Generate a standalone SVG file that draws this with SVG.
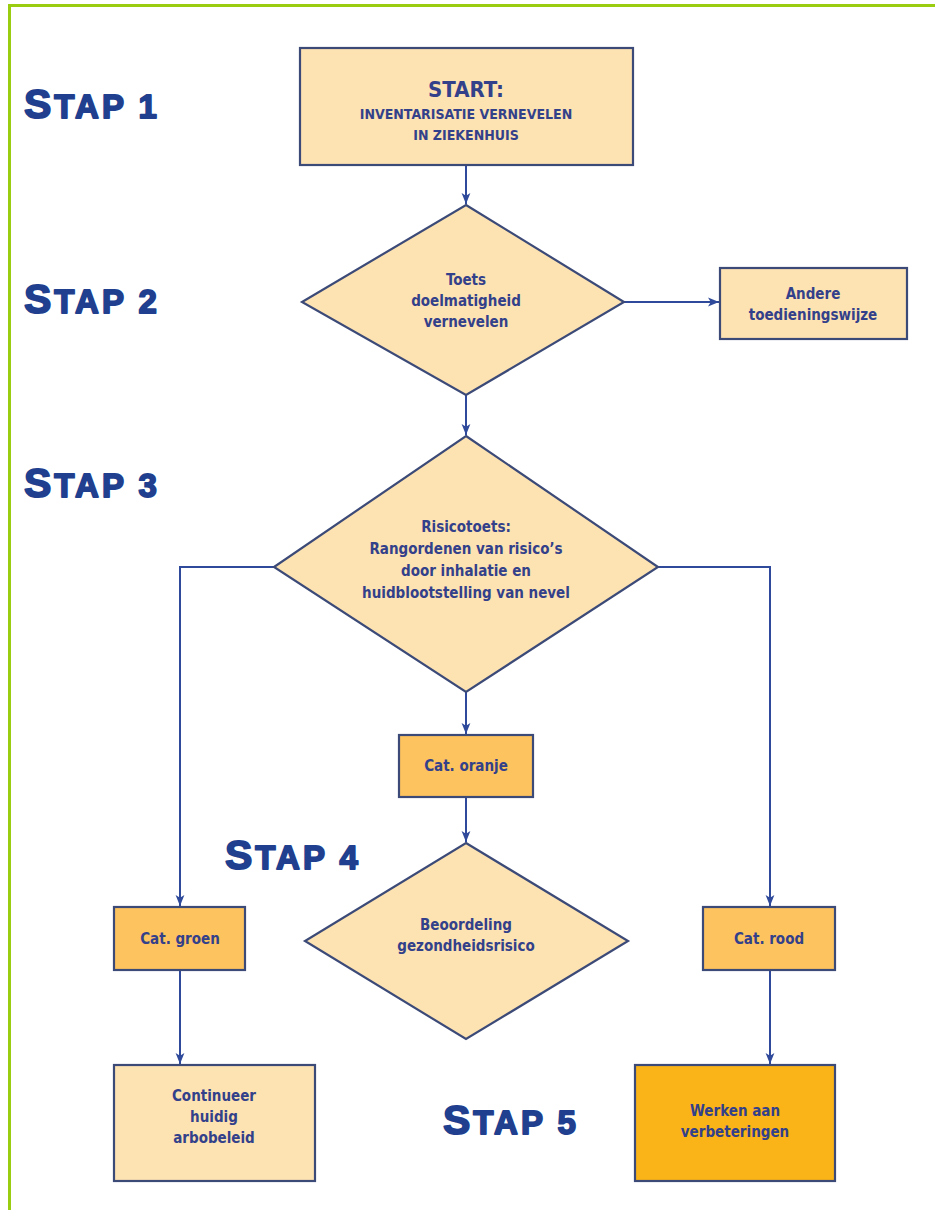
<svg xmlns="http://www.w3.org/2000/svg" width="935" height="1210" viewBox="0 0 935 1210">
<style>
.frame{fill:none;stroke:#9acc10;stroke-width:3}
.box{stroke:#3c4a78;stroke-width:2.2}
.light{fill:#fde3b2}
.mid{fill:#fdc35e}
.dark{fill:#fbb417}
.t{font-family:"Liberation Sans Narrow","DejaVu Sans Condensed","Liberation Sans",sans-serif;font-stretch:condensed;font-weight:bold;fill:#33408a;text-anchor:middle;font-size:15px}
.stap{font-family:"Liberation Sans","DejaVu Sans",sans-serif;font-weight:bold;fill:#213f8f;stroke:#213f8f;stroke-width:1.8;stroke-linejoin:round}
.big{font-size:41px}
.sm{font-size:33px}
.conn{fill:none;stroke:#2f4a9a;stroke-width:2}
</style>
<defs>
<marker id="ah" viewBox="0 0 10 10" refX="10" refY="5" markerWidth="11" markerHeight="11" markerUnits="userSpaceOnUse" orient="auto">
<path d="M0,1 L10,5 L0,9 L2.5,5 Z" fill="#2f4a9a"/>
</marker>
</defs>
<rect width="935" height="1210" fill="#ffffff"/>
<path class="frame" d="M9.5,1210 V5.5 H935"/>

<g id="labels">
<text class="stap" x="24" y="118" letter-spacing="3"><tspan class="big">S</tspan><tspan class="sm">TAP 1</tspan></text>
<text class="stap" x="24" y="313" letter-spacing="3"><tspan class="big">S</tspan><tspan class="sm">TAP 2</tspan></text>
<text class="stap" x="24" y="497" letter-spacing="3"><tspan class="big">S</tspan><tspan class="sm">TAP 3</tspan></text>
<text class="stap" x="225" y="869" letter-spacing="3"><tspan class="big">S</tspan><tspan class="sm">TAP 4</tspan></text>
<text class="stap" x="443" y="1134" letter-spacing="3"><tspan class="big">S</tspan><tspan class="sm">TAP 5</tspan></text>
</g>

<g id="connectors">
<path class="conn" d="M466,165 V204" marker-end="url(#ah)"/>
<path class="conn" d="M624,302 H719" marker-end="url(#ah)"/>
<path class="conn" d="M466,395 V435" marker-end="url(#ah)"/>
<path class="conn" d="M274,567 H180 V906" marker-end="url(#ah)"/>
<path class="conn" d="M658,567 H770 V906" marker-end="url(#ah)"/>
<path class="conn" d="M466,692 V734" marker-end="url(#ah)"/>
<path class="conn" d="M466,797 V842" marker-end="url(#ah)"/>
<path class="conn" d="M180,970 V1064" marker-end="url(#ah)"/>
<path class="conn" d="M770,970 V1064" marker-end="url(#ah)"/>
</g>

<g id="start">
<rect class="box light" x="300" y="48" width="333" height="117"/>
<text class="t" x="466" y="97" style="font-size:22px">START:</text>
<text class="t" x="466" y="119" style="font-size:14px">INVENTARISATIE VERNEVELEN</text>
<text class="t" x="466" y="140" style="font-size:14px">IN ZIEKENHUIS</text>
</g>

<g id="toets">
<polygon class="box light" points="466,205 624,302 466,395 302,302"/>
<text class="t" x="466" y="285">Toets</text>
<text class="t" x="466" y="306">doelmatigheid</text>
<text class="t" x="466" y="327">vernevelen</text>
</g>

<g id="andere">
<rect class="box light" x="720" y="268" width="187" height="71"/>
<text class="t" x="813" y="299">Andere</text>
<text class="t" x="813" y="320">toedieningswijze</text>
</g>

<g id="risicotoets">
<polygon class="box light" points="466,436 658,567 466,692 274,567"/>
<text class="t" x="466" y="532">Risicotoets:</text>
<text class="t" x="466" y="554">Rangordenen van risico’s</text>
<text class="t" x="466" y="576">door inhalatie en</text>
<text class="t" x="466" y="598">huidblootstelling van nevel</text>
</g>

<g id="oranje">
<rect class="box mid" x="399" y="735" width="134" height="62"/>
<text class="t" x="466" y="771">Cat. oranje</text>
</g>

<g id="beoordeling">
<polygon class="box light" points="466,843 628,941 466,1039 305,941"/>
<text class="t" x="466" y="930">Beoordeling</text>
<text class="t" x="466" y="951">gezondheidsrisico</text>
</g>

<g id="groen">
<rect class="box mid" x="114" y="907" width="131" height="63"/>
<text class="t" x="180" y="944">Cat. groen</text>
</g>

<g id="rood">
<rect class="box mid" x="703" y="907" width="132" height="63"/>
<text class="t" x="769" y="944">Cat. rood</text>
</g>

<g id="continueer">
<rect class="box light" x="114" y="1065" width="201" height="116"/>
<text class="t" x="214" y="1101">Continueer</text>
<text class="t" x="214" y="1122">huidig</text>
<text class="t" x="214" y="1143">arbobeleid</text>
</g>

<g id="werken">
<rect class="box dark" x="635" y="1065" width="200" height="116"/>
<text class="t" x="735" y="1116">Werken aan</text>
<text class="t" x="735" y="1137">verbeteringen</text>
</g>
</svg>
